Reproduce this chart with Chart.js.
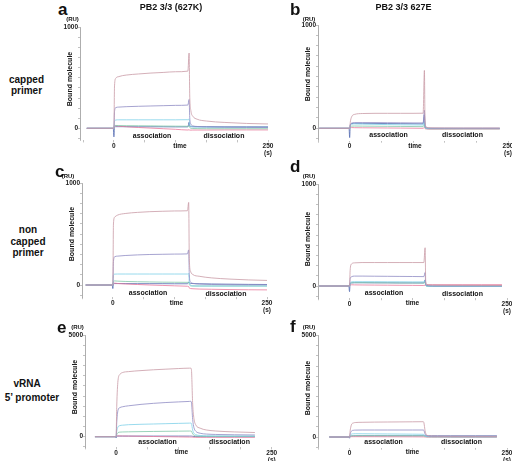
<!DOCTYPE html>
<html>
<head>
<meta charset="utf-8">
<script src="https://cdn.jsdelivr.net/npm/chart.js@4.4.0/dist/chart.umd.min.js"></script>
<style>
  html, body { margin: 0; padding: 0; background: #fff; }
  #page { position: relative; width: 512px; height: 461px; overflow: hidden; font-family: "Liberation Sans", Arial, sans-serif; color: #111; }
  #page canvas { position: absolute; }
  .txt { position: absolute; white-space: nowrap; font-weight: bold; }
</style>
</head>
<body>
<div id="page"></div>
<script>
// tick labels
const xTickValues = [-50, 0, 50, 100, 150, 200, 250];
const xLabeled = [0, 250];
const yMaxPrimer = 1000;
const yMaxPromoter = 5000;

// a: capped primer, PB2 627K
const aTime = [-44, -1, 0, 1, 3, 8, 20, 40, 60, 80, 100, 120, 122, 123, 125, 128, 135, 150, 180, 215, 250];
const aMauve = [0, 0, 0, 420, 495, 512, 527, 538, 547, 553, 560, 566, 745, 330, 170, 120, 90, 72, 58, 48, 43];
const aViolet = [0, 0, 0, 165, 205, 210, 214, 218, 221, 224, 227, 230, 285, 110, 40, 24, 18, 14, 11, 9, 8];
const aCyan = [0, 0, 0, 70, 82, 84, 84, 84, 84, 84, 84, 85, 92, 40, 20, 14, 12, 11, 10, 10, 10];
const aGreen = [0, 0, 0, 24, 28, 27, 26, 25, 24, 22, 21, 20, 24, 8, 0, -2, -3, -4, -4, -4, -4];
const aPink = [0, 0, 0, 26, 25, 21, 15, 8, 2, -4, -10, -17, -14, -18, -18, -17, -17, -17, -16, -16, -16];
const aNavy = [0, 0, -85, 12, 16, 16, 16, 15, 15, 15, 14, 14, 60, 20, 16, 16, 16, 16, 15, 15, 15];

// b: capped primer, PB2 627E
const bTime = [-48, -1, 0, 1, 3, 8, 20, 40, 60, 80, 100, 116, 118, 119, 121, 124, 130, 150, 180, 210, 237];
const bMauve = [0, 0, 0, 60, 110, 135, 143, 145, 145, 145, 145, 146, 560, 70, 12, 6, 4, 3, 2, 2, 2];
const bViolet = [0, 0, 0, 35, 50, 55, 55, 55, 54, 53, 52, 52, 175, 20, 5, 2, 0, 0, 0, 0, 0];
const bCyan = [0, 0, 0, 28, 38, 42, 40, 38, 36, 34, 33, 32, 75, 10, 0, -2, -3, -3, -3, -3, -3];
const bGreen = [0, 0, 0, 16, 21, 22, 21, 20, 19, 18, 17, 16, 40, 5, -3, -5, -5, -5, -5, -5, -5];
const bPink = [0, 0, 0, 8, 7, 6, 5, 4, 3, 2, 1, 0, 10, -3, -6, -8, -8, -8, -7, -7, -7];
const bNavy = [0, 0, -90, 30, 45, 48, 48, 47, 46, 45, 44, 43, 130, 15, 2, 0, 0, 0, 0, 0, 0];

// c: non capped primer, PB2 627K
const cTime = [-44, -1, 0, 1, 3, 8, 20, 40, 60, 80, 100, 121, 123, 124, 126, 130, 140, 160, 190, 220, 250];
const cMauve = [0, 0, 0, 600, 668, 688, 703, 714, 721, 725, 728, 730, 812, 260, 135, 102, 86, 70, 58, 50, 45];
const cViolet = [0, 0, 0, 230, 278, 284, 290, 296, 300, 302, 304, 306, 345, 100, 30, 16, 10, 5, 3, 2, 2];
const cCyan = [0, 0, 0, 95, 107, 108, 108, 108, 108, 108, 108, 108, 112, 30, 0, -8, -10, -10, -10, -10, -10];
const cGreen = [0, 0, 0, 34, 40, 38, 35, 32, 30, 28, 27, 26, 28, 5, -8, -10, -10, -10, -10, -10, -10];
const cPink = [0, 0, 0, 20, 18, 15, 10, 5, 0, -4, -8, -12, -15, -30, -35, -37, -40, -42, -45, -47, -48];
const cNavy = [0, 0, -35, 10, 14, 14, 14, 13, 13, 13, 12, 12, 30, 20, 16, 14, 12, 10, 8, 6, 5];

// d: non capped primer, PB2 627E
const dTime = [-48, -1, 0, 1, 3, 8, 20, 40, 60, 80, 100, 118, 120, 121, 123, 126, 132, 150, 180, 210, 242];
const dMauve = [0, 0, 0, 150, 215, 227, 230, 230, 230, 230, 230, 230, 375, 45, 16, 11, 9, 7, 6, 5, 5];
const dViolet = [0, 0, 0, 70, 90, 97, 97, 96, 95, 94, 93, 92, 132, 20, 5, 2, 0, 0, 0, 0, 0];
const dCyan = [0, 0, 0, 30, 40, 42, 42, 42, 41, 41, 40, 40, 55, 8, 0, -2, -3, -3, -3, -3, -3];
const dGreen = [0, 0, 0, 24, 31, 33, 33, 32, 31, 30, 30, 29, 35, 5, -2, -3, -3, -3, -3, -3, -3];
const dPink = [0, 0, 0, 12, 12, 11, 10, 9, 8, 7, 6, 5, 8, 10, 12, 13, 13, 13, 13, 13, 13];
const dNavy = [0, 0, -55, 20, 30, 32, 32, 31, 31, 30, 30, 30, 60, 10, 2, 0, 0, 0, 0, 0, 0];

// e: vRNA 5' promoter, PB2 627K
const eTime = [-34, -1, 0, 1, 3, 6, 10, 20, 40, 60, 80, 100, 118, 120, 121, 123, 125, 128, 135, 145, 160, 190, 223];
const eMauve = [0, 0, 0, 1500, 2750, 3060, 3150, 3200, 3250, 3290, 3320, 3350, 3370, 3370, 3300, 1600, 900, 580, 420, 330, 280, 235, 205];
const eViolet = [0, 0, 0, 700, 1300, 1430, 1470, 1520, 1590, 1640, 1680, 1710, 1735, 1740, 1700, 850, 450, 270, 170, 130, 110, 95, 85];
const eCyan = [0, 0, 0, 260, 480, 545, 565, 590, 610, 625, 640, 655, 668, 670, 650, 330, 170, 100, 60, 45, 40, 35, 33];
const eGreen = [0, 0, 0, 100, 200, 225, 232, 240, 250, 258, 265, 272, 278, 280, 270, 140, 70, 40, 25, 20, 18, 17, 16];
const ePink = [0, 0, 0, 30, 40, 38, 35, 30, 20, 10, 0, -10, -18, -20, -20, -25, -28, -30, -30, -30, -30, -30, -30];
const eNavy = [0, 0, -60, 20, 30, 30, 30, 30, 30, 30, 30, 30, 30, 30, 30, 20, 10, 5, 0, 0, 0, 0, 0];

// f: vRNA 5' promoter, PB2 627E
const fTime = [-32, -1, 0, 1, 3, 6, 10, 20, 40, 60, 80, 100, 115, 117, 118, 120, 122, 125, 130, 140, 160, 200, 234];
const fMauve = [0, 0, 0, 300, 600, 690, 715, 725, 735, 740, 745, 750, 755, 755, 720, 300, 120, 70, 50, 40, 35, 32, 30];
const fViolet = [0, 0, 0, 150, 290, 330, 340, 345, 345, 345, 345, 345, 345, 345, 330, 140, 60, 40, 30, 25, 22, 20, 20];
const fCyan = [0, 0, 0, 80, 140, 158, 162, 160, 155, 150, 145, 140, 135, 132, 125, 60, 30, 20, 15, 12, 10, 10, 10];
const fGreen = [0, 0, 0, 35, 55, 62, 64, 64, 63, 62, 61, 60, 60, 60, 58, 30, 15, 10, 8, 6, 5, 5, 5];
const fPink = [0, 0, 0, 10, 15, 16, 16, 15, 14, 12, 10, 8, 6, 5, 5, 0, -5, -8, -10, -10, -10, -10, -10];
const fNavy = [0, 0, -60, 30, 50, 55, 58, 60, 60, 60, 60, 60, 60, 60, 60, 60, 60, 60, 60, 60, 60, 60, 60];

const seriesColors = ["#c99aa6", "#8f8cc4", "#7fd0e8", "#80c8a8", "#e8789c", "#5068b0"];
const FONT = "Liberation Sans";

// plot area placement on the page (pixels); below = axis depth under 0 in ticks
const panels = [
  { time: aTime, series: [aMauve, aViolet, aCyan, aGreen, aPink, aNavy], yMax: yMaxPrimer, below: 1.2, xMin: -55, L: 80, R: 268, T: 27.3, zero: 128.3 },
  { time: bTime, series: [bMauve, bViolet, bCyan, bGreen, bPink, bNavy], yMax: yMaxPrimer, below: 1.2, xMin: -50, L: 318, R: 508, T: 25, zero: 128.3 },
  { time: cTime, series: [cMauve, cViolet, cCyan, cGreen, cPink, cNavy], yMax: yMaxPrimer, below: 1.2, xMin: -50, L: 82, R: 267, T: 183.3, zero: 285 },
  { time: dTime, series: [dMauve, dViolet, dCyan, dGreen, dPink, dNavy], yMax: yMaxPrimer, below: 1.2, xMin: -50, L: 318, R: 507, T: 184, zero: 286 },
  { time: eTime, series: [eMauve, eViolet, eCyan, eGreen, ePink, eNavy], yMax: yMaxPromoter, below: 1.05, xMin: -50, L: 85, R: 271.7, T: 335, zero: 436.7 },
  { time: fTime, series: [fMauve, fViolet, fCyan, fGreen, fPink, fNavy], yMax: yMaxPromoter, below: 1.05, xMin: -50, L: 318, R: 507, T: 335.7, zero: 437 }
];

const texts = [
  // panel letters
  { s: "a", x: 58, y: 15, size: 17 }, { s: "b", x: 290, y: 15, size: 17 },
  { s: "c", x: 55, y: 177, size: 17 }, { s: "d", x: 290, y: 172, size: 17 },
  { s: "e", x: 57, y: 333, size: 17 }, { s: "f", x: 290, y: 332, size: 17 },
  // titles
  { s: "PB2 3/3 (627K)", x: 171, y: 11, size: 9, c: true },
  { s: "PB2 3/3 627E", x: 403.5, y: 11, size: 9, c: true },
  // row labels
  { s: "capped", x: 26.5, y: 83.3, size: 10, c: true }, { s: "primer", x: 26.5, y: 94.3, size: 10, c: true },
  { s: "non", x: 28, y: 233.5, size: 10, c: true }, { s: "capped", x: 28, y: 245, size: 10, c: true },
  { s: "primer", x: 28, y: 256, size: 10, c: true },
  { s: "vRNA", x: 27, y: 387, size: 10, c: true }, { s: "5\u2019 promoter", x: 32, y: 401, size: 10, c: true }
];

const panelTexts = [
  { ru: [72.5, 21], bound: [69, 78.5], assoc: [152, 137.5], dissoc: [224, 137.5], time: [180, 148.5] },
  { ru: [309, 21], bound: [307, 74], assoc: [388.5, 136.5], dissoc: [462.5, 136.5], time: [415, 149] },
  { ru: [68, 178], bound: [71, 234], assoc: [148, 295], dissoc: [226, 296], time: [176.5, 305.5] },
  { ru: [309, 178], bound: [307, 239], assoc: [384, 295], dissoc: [462.5, 296], time: [412.5, 306] },
  { ru: [77.5, 329], bound: [74, 387], assoc: [157.5, 444], dissoc: [229.5, 444], time: [181.5, 455] },
  { ru: [309, 329], bound: [307, 388], assoc: [383.5, 444], dissoc: [461.5, 444], time: [412.5, 455] }
];

const page = document.getElementById("page");

function addText(str, x, baseline, size, centered) {
  const el = document.createElement("div");
  el.className = "txt";
  el.textContent = str;
  el.style.fontSize = size + "px";
  el.style.lineHeight = size + "px";
  el.style.top = (baseline - size * 0.85) + "px";
  el.style.left = x + "px";
  if (centered) {
    el.style.transform = "translateX(-50%)";
  }
  page.appendChild(el);
}

function addRotated(str, cx, cy, size) {
  const el = document.createElement("div");
  el.className = "txt";
  el.textContent = str;
  el.style.fontSize = size + "px";
  el.style.lineHeight = size + "px";
  el.style.left = cx + "px";
  el.style.top = cy + "px";
  el.style.transform = "translate(-50%, -50%) rotate(-90deg)";
  page.appendChild(el);
}

function buildPanel(p) {
  const yStep = p.yMax / 10;
  const yMin = -p.below * yStep;
  const B = p.zero + (p.zero - p.T) * (p.below * yStep) / p.yMax;
  const W = 22, PT = 8, PR = 8, H = 20;
  const left = Math.floor(p.L - W);
  const top = Math.floor(p.T - PT);
  const right = Math.ceil(p.R + PR);
  const bottom = Math.ceil(B + H);

  const canvas = document.createElement("canvas");
  canvas.width = right - left;
  canvas.height = bottom - top;
  canvas.style.left = left + "px";
  canvas.style.top = top + "px";
  page.appendChild(canvas);

  const yTicks = [];
  for (let v = -yStep; v <= p.yMax + 0.01; v += yStep) {
    yTicks.push(v);
  }

  const tickFont = { family: FONT, size: 6.5, weight: "bold", lineHeight: 1.1 };

  new Chart(canvas, {
    type: "line",
    data: {
      datasets: p.series.map((vals, i) => ({
        data: p.time.map((t, k) => ({ x: t, y: vals[k] })),
        borderColor: seriesColors[i],
        borderWidth: 0.8,
        pointRadius: 0,
        cubicInterpolationMode: "monotone",
        fill: false
      }))
    },
    options: {
      responsive: false,
      animation: false,
      events: [],
      layout: {
        padding: { left: p.L - W - left, top: p.T - top, right: right - p.R, bottom: 0 }
      },
      plugins: {
        legend: { display: false },
        tooltip: { enabled: false }
      },
      scales: {
        x: {
          type: "linear",
          min: p.xMin,
          max: 250,
          afterBuildTicks: s => { s.ticks = xTickValues.filter(v => v >= p.xMin).map(v => ({ value: v })); },
          afterFit: s => { s.height = bottom - B; s.paddingLeft = 0; s.paddingRight = 0; },
          grid: { display: true, drawOnChartArea: false, drawTicks: true, tickLength: 2, color: "#999", lineWidth: 0.6 },
          border: { display: false },
          ticks: {
            autoSkip: false,
            maxRotation: 0,
            padding: 0,
            color: "#222",
            font: tickFont,
            callback: v => xLabeled.includes(v) ? (v === 250 ? ["250", "(s)"] : String(v)) : ""
          }
        },
        y: {
          min: yMin,
          max: p.yMax,
          afterBuildTicks: s => { s.ticks = yTicks.map(v => ({ value: v })); },
          afterFit: s => { s.width = W; s.paddingTop = 0; s.paddingBottom = 0; },
          grid: { display: true, drawOnChartArea: false, drawTicks: true, tickLength: 2, color: "#999", lineWidth: 0.6 },
          border: { display: true, color: "#999", width: 0.8 },
          ticks: {
            autoSkip: false,
            padding: 0,
            color: "#222",
            font: tickFont,
            callback: v => (v === 0 || v === p.yMax) ? String(v) : ""
          }
        }
      }
    }
  });
}

panels.forEach(buildPanel);

texts.forEach(t => addText(t.s, t.x, t.y, t.size, t.c));

panelTexts.forEach(t => {
  addText("(RU)", t.ru[0], t.ru[1], 6, true);
  addRotated("Bound molecule", t.bound[0], t.bound[1], 7);
  addText("association", t.assoc[0], t.assoc[1], 7, true);
  addText("dissociation", t.dissoc[0], t.dissoc[1], 7, true);
  addText("time", t.time[0], t.time[1], 6.5, true);
});
</script>
</body>
</html>
